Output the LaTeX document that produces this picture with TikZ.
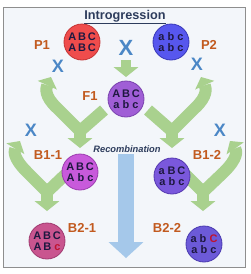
\documentclass[tikz,border=0pt]{standalone}
\usepackage{fontspec}
\setmainfont{Liberation Sans}
\usetikzlibrary{arrows.meta}

\definecolor{panel}{HTML}{F3F6FA}
\definecolor{frame}{HTML}{8E8E8E}
\definecolor{bandgreen}{HTML}{A9D18E}
\definecolor{flowblue}{HTML}{A5C8EA}
\definecolor{geneText}{HTML}{1E1840}
\definecolor{geneRed}{HTML}{C0122E}
\definecolor{lblBrown}{HTML}{C25A1F}
\definecolor{crossBlue}{HTML}{4B87C6}
\definecolor{titleBlue}{HTML}{2D3C5C}
\definecolor{p1Fill}{HTML}{EF4C4C}\definecolor{p1Line}{HTML}{C43434}
\definecolor{p2Fill}{HTML}{5757EE}\definecolor{p2Line}{HTML}{3838B8}
\definecolor{f1Fill}{HTML}{A05ED6}\definecolor{f1Line}{HTML}{7A42AE}
\definecolor{b11Fill}{HTML}{C85ADB}\definecolor{b11Line}{HTML}{9C3CB0}
\definecolor{b12Fill}{HTML}{7A58DC}\definecolor{b12Line}{HTML}{5538B0}
\definecolor{b21Fill}{HTML}{C9558F}\definecolor{b21Line}{HTML}{A03A70}
\definecolor{b22Fill}{HTML}{6C5AD8}\definecolor{b22Line}{HTML}{4A3AB0}

\begin{document}
\begin{tikzpicture}[x=1pt,y=-1pt,
  gen/.style={circle,line width=0.8pt,minimum size=36pt,inner sep=0pt,align=center,
    font=\fontsize{11}{11.5}\selectfont\bfseries,text=geneText},
  lbl/.style={font=\fontsize{13}{13}\selectfont\bfseries,text=lblBrown},
  cross/.style={font=\fontsize{18}{18}\selectfont\bfseries,text=crossBlue},
  band/.style={draw=bandgreen,line width=12pt,line join=round},
  tip/.style={-{Triangle[width=25pt,length=10pt,line width=0pt]}},
  uptip/.style={-{Triangle[width=21pt,length=9pt,line width=0pt]}}]
\useasboundingbox (0,0) rectangle (250,274);
\draw[fill=panel,draw=frame,line width=1pt] (4,7) rectangle (246,267);
\node[font=\fontsize{12.7}{13}\selectfont\bfseries,text=titleBlue] (T) at (125,17) {\underline{Introgression}};

% recombination arrow
\coordinate (r0) at (126,154);
\coordinate (r1) at (126,258);
\draw[draw=flowblue,line width=16pt,-{Triangle[width=35pt,length=16pt,line width=0pt]}] (r0) -- (r1);
\node[font=\fontsize{9.3}{10}\selectfont\bfseries\itshape,text=titleBlue] (R) at (127,149) {Recombination};

% green arrows
\coordinate (m0) at (126,60);
\coordinate (m1) at (126,77);
\draw[band,tip,line width=10pt] (m0) -- (m1);

\coordinate (j1) at (80,131);
\coordinate (j2) at (172,131);
\coordinate (j3) at (47,192);
\coordinate (j4) at (203,192);
\draw[band,uptip] (104,110) -- (j1) -- (57,108) .. controls (44,96) and (46,88) .. (51,77);
\draw[band,tip] (j1) -- (80,148);
\draw[band,uptip] (148,110) -- (j2) -- (195,108) .. controls (208,96) and (206,88) .. (201,77);
\draw[band,tip] (j2) -- (172,148);
\draw[band,uptip] (68,172) -- (j3) -- (27,172) .. controls (13,158) and (14,151) .. (20,141);
\draw[band,tip] (j3) -- (47,211);
\draw[band,uptip] (183,172) -- (j4) -- (224,172) .. controls (238,158) and (237,151) .. (230,141);
\draw[band,tip] (j4) -- (203,211);

% genotypes
\node[gen,fill=p1Fill,draw=p1Line] (P1) at (82,42) {A\,B\,C\\A\,B\,C};
\node[gen,fill=p2Fill,draw=p2Line] (P2) at (171,42) {a b c\\a b c};
\node[gen,fill=f1Fill,draw=f1Line] (F1) at (126,99) {A\,B\,C\\a b c};
\node[gen,fill=b11Fill,draw=b11Line] (B11) at (80,172) {A\,B\,C\\A b c};
\node[gen,fill=b12Fill,draw=b12Line] (B12) at (172,176) {a B\,C\\a b c};
\node[gen,fill=b21Fill,draw=b21Line] (B21) at (47,241) {A\,B\,C\\A\,B {\color{geneRed}c}};
\node[gen,fill=b22Fill,draw=b22Line] (B22) at (204,244) {a b {\color{geneRed}C}\\a b c};

% labels
\node[lbl] (lP1) at (42,45) {P1};
\node[lbl] (lP2) at (209,45) {P2};
\node[lbl] (lF1) at (90,96) {F1};
\node[lbl] (lB11) at (48,155) {B1-1};
\node[lbl] (lB12) at (207,155) {B1-2};
\node[lbl] (lB21) at (82,228) {B2-1};
\node[lbl] (lB22) at (167,228) {B2-2};

% crosses
\node[cross,font=\fontsize{22}{22}\selectfont\bfseries] (x0) at (126,48) {X};
\node[cross] (x1) at (58,66) {X};
\node[cross] (x2) at (197,64) {X};
\node[cross] (x3) at (31,130) {X};
\node[cross] (x4) at (220,130) {X};
\end{tikzpicture}
\end{document}
